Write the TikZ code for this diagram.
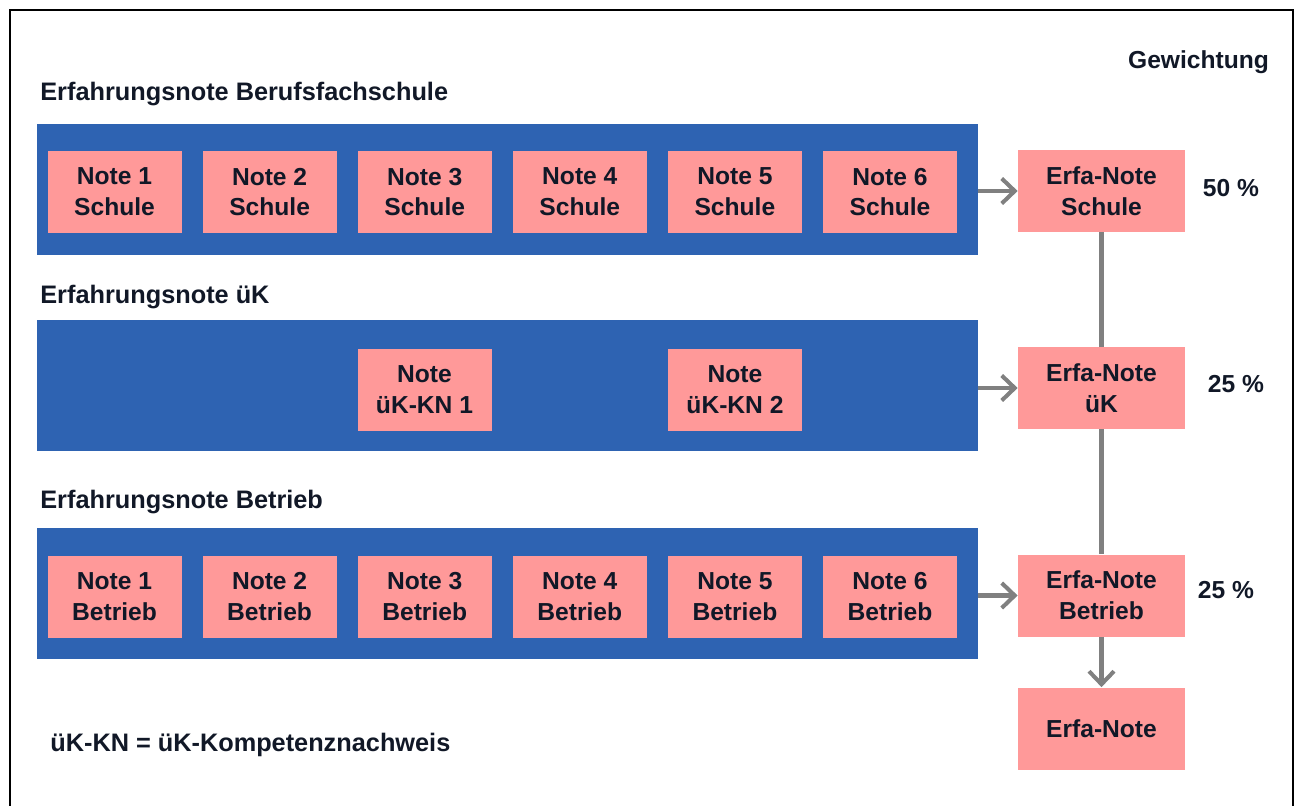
\documentclass[tikz,border=0pt]{standalone}
\usepackage{fontspec}
\setmainfont{Liberation Sans}
\usetikzlibrary{arrows.meta,positioning,calc}
\definecolor{BandBlue}{RGB}{46,99,178}
\definecolor{NotePink}{RGB}{255,153,153}
\definecolor{ArrowGray}{RGB}{128,128,128}
\definecolor{DarkInk}{RGB}{17,24,39}

\begin{document}
\begin{tikzpicture}[
    node distance=0.408cm,
    band/.style={fill=BandBlue,minimum width=18.82cm,minimum height=2.62cm,inner sep=0pt},
    note/.style={fill=NotePink,text=DarkInk,minimum width=2.68cm,minimum height=1.64cm,align=center,inner sep=1pt,
      font=\fontsize{14}{17.5}\selectfont\bfseries},
    erfa/.style={note,minimum width=3.34cm},
    head/.style={text=DarkInk,inner sep=0pt,anchor=west,font=\fontsize{14.4}{17}\selectfont\bfseries},
    weight/.style={text=DarkInk,inner sep=0pt,font=\fontsize{14}{16}\selectfont\bfseries},
    arrow/.style={-{Straight Barb[length=2.6mm,width=5mm]},line width=2.3pt,ArrowGray},
    link/.style={line width=2.3pt,ArrowGray}
  ]
    \useasboundingbox (0,0) rectangle (26,-16.1);
    \draw[line width=1.1pt] (0.2,-0.2) rectangle (25.86,-16.4);

    % Berufsfachschule
    \node[head] (hS) at (0.80,-1.88) {Erfahrungsnote Berufsfachschule};
    \node[band] (bandS) at (10.15,-3.79) {};
    \node[note] (S1) at (2.29,-3.84) {Note 1\\Schule};
    \node[note,right=of S1] (S2) {Note 2\\Schule};
    \node[note,right=of S2] (S3) {Note 3\\Schule};
    \node[note,right=of S3] (S4) {Note 4\\Schule};
    \node[note,right=of S4] (S5) {Note 5\\Schule};
    \node[note,right=of S5] (S6) {Note 6\\Schule};

    % ueberbetriebliche Kurse
    \node[head] (hK) at (0.80,-5.94) {Erfahrungsnote üK};
    \node[band] (bandK) at (10.15,-7.71) {};
    \node[note] (K1) at (8.49,-7.79) {Note\\üK-KN 1};
    \node[note] (K2) at (14.70,-7.79) {Note\\üK-KN 2};

    % Betrieb
    \node[head] (hB) at (0.80,-10.04) {Erfahrungsnote Betrieb};
    \node[band] (bandB) at (10.15,-11.86) {};
    \node[note] (B1) at (2.29,-11.93) {Note 1\\Betrieb};
    \node[note,right=of B1] (B2) {Note 2\\Betrieb};
    \node[note,right=of B2] (B3) {Note 3\\Betrieb};
    \node[note,right=of B3] (B4) {Note 4\\Betrieb};
    \node[note,right=of B4] (B5) {Note 5\\Betrieb};
    \node[note,right=of B5] (B6) {Note 6\\Betrieb};

    % Erfa-Noten rechts
    \node[weight] (gew) at (23.97,-1.24) {Gewichtung};
    \node[erfa] (eS) at (22.03,-3.82) {Erfa-Note\\Schule};
    \node[erfa] (eK) at (22.03,-7.76) {Erfa-Note\\üK};
    \node[erfa] (eB) at (22.03,-11.91) {Erfa-Note\\Betrieb};
    \node[erfa] (eN) at (22.03,-14.57) {Erfa-Note};
    \node[weight] (wS) at (24.62,-3.76) {50 \%};
    \node[weight] (wK) at (24.72,-7.68) {25 \%};
    \node[weight] (wB) at (24.52,-11.80) {25 \%};

    \draw[arrow] (bandS.east |- eS.west) -- (eS.west);
    \draw[arrow] (bandK.east |- eK.west) -- (eK.west);
    \draw[arrow] (bandB.east |- eB.west) -- (eB.west);
    \draw[link] (eS) -- (eK);
    \draw[link] (eK) -- (eB);
    \draw[arrow] (eB) -- (eN);

    \node[head] (legend) at (1.0,-14.9) {üK-KN = üK-Kompetenznachweis};
  \end{tikzpicture}
\end{document}
